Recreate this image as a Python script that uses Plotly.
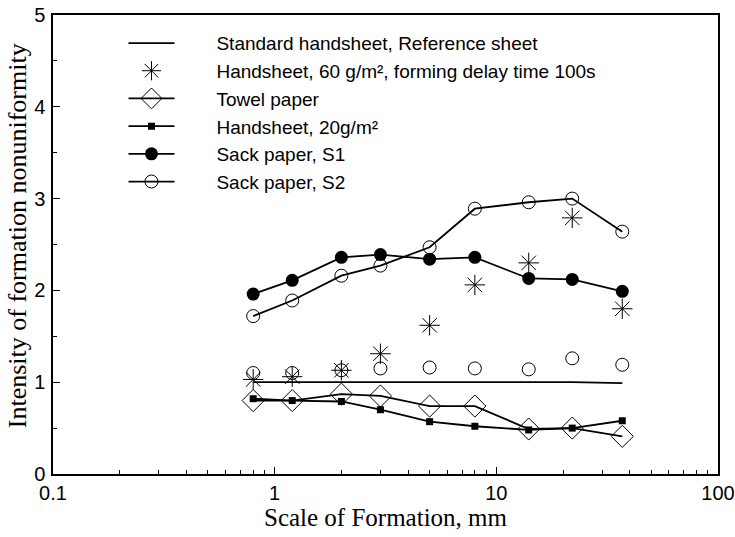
import plotly.graph_objects as go

scale_mm = [0.8, 1.2, 2, 3, 5, 8, 14, 22, 37]

reference_sheet = [1.0, 1.0, 1.0, 1.0, 1.0, 1.0, 1.0, 1.0, 0.99]
handsheet_60 = [1.03, 1.06, 1.13, 1.31, 1.62, 2.06, 2.30, 2.79, 1.80]
towel_paper = [0.80, 0.80, 0.87, 0.85, 0.74, 0.74, 0.49, 0.50, 0.41]
handsheet_20 = [0.82, 0.80, 0.79, 0.70, 0.57, 0.52, 0.48, 0.50, 0.58]
sack_s1 = [1.96, 2.11, 2.36, 2.39, 2.34, 2.36, 2.13, 2.12, 1.99]
sack_s2 = [1.72, 1.89, 2.16, 2.27, 2.47, 2.89, 2.96, 3.00, 2.64]
sack_s2_low = [1.10, 1.10, 1.13, 1.15, 1.16, 1.15, 1.14, 1.26, 1.19]

names = [
    "Standard handsheet, Reference sheet",
    "Handsheet, 60 g/m², forming delay time 100s",
    "Towel paper",
    "Handsheet, 20g/m²",
    "Sack paper, S1",
    "Sack paper, S2",
]

x_ticks = [0.1, 1, 10, 100]
x_tick_labels = ["0.1", "1", "10", "100"]
y_ticks = [0, 1, 2, 3, 4, 5]

x_title = "Scale of Formation, mm"
y_title = "Intensity of formation nonuniformity"

PAD = "\u00a0" * 7
fig = go.Figure()
LW = 1.8

fig.add_trace(go.Scatter(x=scale_mm, y=reference_sheet, mode="lines", name=PAD + names[0],
                         line=dict(color="black", width=LW)))
fig.add_trace(go.Scatter(x=scale_mm, y=handsheet_60, mode="markers", name=PAD + names[1],
                         marker=dict(symbol="asterisk-open", size=17, color="black",
                                     line=dict(color="black", width=1))))
fig.add_trace(go.Scatter(x=scale_mm, y=towel_paper, mode="lines+markers", name=PAD + names[2],
                         line=dict(color="black", width=LW),
                         marker=dict(symbol="diamond-open", size=17, color="black",
                                     line=dict(color="black", width=1))))
fig.add_trace(go.Scatter(x=scale_mm, y=handsheet_20, mode="lines+markers", name=PAD + names[3],
                         line=dict(color="black", width=LW),
                         marker=dict(symbol="square", size=7, color="black")))
fig.add_trace(go.Scatter(x=scale_mm, y=sack_s1, mode="lines+markers", name=PAD + names[4],
                         line=dict(color="black", width=LW),
                         marker=dict(symbol="circle", size=13, color="black")))
fig.add_trace(go.Scatter(x=scale_mm, y=sack_s2, mode="lines+markers", name=PAD + names[5],
                         line=dict(color="black", width=LW),
                         marker=dict(symbol="circle-open", size=13, color="black",
                                     line=dict(color="black", width=1))))
fig.add_trace(go.Scatter(x=scale_mm, y=sack_s2_low, mode="markers", showlegend=False,
                         marker=dict(symbol="circle-open", size=13, color="black",
                                     line=dict(color="black", width=1))))

serif = "Liberation Serif, Times New Roman, serif"

fig.update_layout(
    width=735, height=537,
    margin=dict(l=53, r=17, t=15, b=63),
    paper_bgcolor="white", plot_bgcolor="white",
    font=dict(family="Liberation Sans, Arial, sans-serif", size=20, color="black"),
    showlegend=True,
    legend=dict(x=0.106, y=0.98, xanchor="left", yanchor="top",
                bgcolor="rgba(0,0,0,0)", font=dict(size=19),
                itemwidth=46, tracegroupgap=0),
    xaxis=dict(type="log", range=[-1, 2], tickvals=x_ticks, ticktext=x_tick_labels,
               ticks="inside", ticklen=7, tickwidth=1, tickcolor="black",
               minor=dict(tickmode="linear", dtick="D1", ticks="inside", ticklen=4,
                          tickwidth=1, tickcolor="black", showgrid=False),
               showline=True, linecolor="black", linewidth=1.5, mirror=True,
               showgrid=False, zeroline=False, automargin=False,
               title=dict(text=x_title, font=dict(family=serif, size=25), standoff=6)),
    yaxis=dict(range=[0, 5], tickvals=y_ticks,
               ticks="inside", ticklen=7, tickwidth=1, tickcolor="black",
               minor=dict(tickmode="linear", tick0=0, dtick=0.5, ticks="inside", ticklen=4,
                          tickwidth=1, tickcolor="black", showgrid=False),
               showline=True, linecolor="black", linewidth=1.5, mirror=True,
               showgrid=False, zeroline=False, automargin=False, ticklabelstandoff=2),
    annotations=[dict(text=y_title, textangle=-90, xref="paper", yref="paper",
                      x=0, y=0.518, xshift=-36, xanchor="center", yanchor="middle",
                      showarrow=False, font=dict(family=serif, size=26))],
)

fig.write_html("out.html")
